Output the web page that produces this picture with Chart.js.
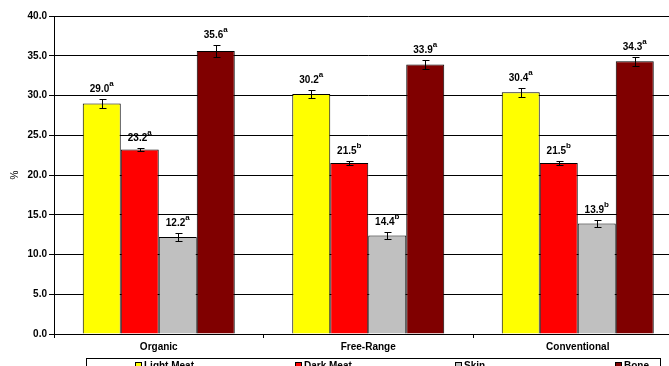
<!DOCTYPE html>
<html>
<head>
<meta charset="utf-8">
<script src="https://cdn.jsdelivr.net/npm/chart.js@4"></script>
<style>
  html, body { margin: 0; padding: 0; background: #fff; overflow: hidden; }
  #wrap { width: 669px; height: 366px; overflow: hidden; position: relative; }
  canvas { display: block; }
</style>
</head>
<body>
<div id="wrap"><canvas id="chart" width="750" height="366"></canvas></div>
<script>
const categories = ["Organic", "Free-Range", "Conventional"];
const seriesNames = ["Light Meat", "Dark Meat", "Skin", "Bone"];

const lightMeat = [29.0, 30.2, 30.4];
const darkMeat = [23.2, 21.5, 21.5];
const skin = [12.2, 12.4, 13.9];
const bone = [35.6, 33.9, 34.3];

const lightMeatErr = [0.6, 0.55, 0.6];
const darkMeatErr = [0.2, 0.2, 0.2];
const skinErr = [0.55, 0.45, 0.5];
const boneErr = [0.7, 0.6, 0.6];

const lightMeatText = ["29.0", "30.2", "30.4"];
const darkMeatText = ["23.2", "21.5", "21.5"];
const skinText = ["12.2", "14.4", "13.9"];
const boneText = ["35.6", "33.9", "34.3"];

const lightMeatLetters = ["a", "a", "a"];
const darkMeatLetters = ["a", "b", "b"];
const skinLetters = ["a", "b", "b"];
const boneLetters = ["a", "a", "a"];

const FONT = 'Arial, "Liberation Sans", sans-serif';

// error bars + value labels with superscript letters
const errorBarsAndLabels = {
  id: 'errorBarsAndLabels',
  afterDatasetsDraw(chart) {
    const ctx = chart.ctx;
    const y = chart.scales.y;
    chart.data.datasets.forEach((ds, i) => {
      const meta = chart.getDatasetMeta(i);
      meta.data.forEach((bar, j) => {
        const v = ds.data[j], e = ds.errors[j];
        const top = Math.round(y.getPixelForValue(v + e)) + 0.5;
        const bot = Math.round(y.getPixelForValue(v - e)) + 0.5;
        const x = Math.round(bar.x) + 0.5;
        ctx.save();
        ctx.strokeStyle = '#000';
        ctx.lineWidth = 1;
        ctx.beginPath();
        ctx.moveTo(x, top); ctx.lineTo(x, bot);
        ctx.moveTo(x - 3, top); ctx.lineTo(x + 4, top);
        ctx.moveTo(x - 3, bot); ctx.lineTo(x + 4, bot);
        ctx.stroke();

        ctx.fillStyle = '#000';
        ctx.textAlign = 'left';
        ctx.textBaseline = 'alphabetic';
        ctx.font = 'bold 10px ' + FONT;
        const num = ds.valueText[j];
        const w1 = ctx.measureText(num).width;
        ctx.font = 'bold 8px ' + FONT;
        const sup = ds.letters[j];
        const w2 = ctx.measureText(sup).width;
        const sx = bar.x - (w1 + w2) / 2;
        const base = top - 8;
        ctx.font = 'bold 10px ' + FONT;
        ctx.fillText(num, sx, base);
        ctx.font = 'bold 8px ' + FONT;
        ctx.fillText(sup, sx + w1, base - 6);
        ctx.restore();
      });
    });
  }
};

// Excel style legend in a box below the axis
const boxedLegend = {
  id: 'boxedLegend',
  afterDraw(chart) {
    const ctx = chart.ctx;
    const left = 86, top = 358, right = 660;
    ctx.save();
    ctx.strokeStyle = '#000';
    ctx.lineWidth = 1;
    ctx.fillStyle = '#fff';
    ctx.fillRect(left, top, right - left, 24);
    ctx.strokeRect(left + 0.5, top + 0.5, right - left, 24);
    ctx.font = 'bold 10px ' + FONT;
    ctx.textBaseline = 'alphabetic';
    chart.data.datasets.forEach((ds, i) => {
      const x = left + 49 + i * 160;
      ctx.fillStyle = ds.backgroundColor;
      ctx.fillRect(x, 362, 7, 7);
      ctx.strokeRect(x + 0.5, 362.5, 6, 6);
      ctx.fillStyle = '#000';
      ctx.fillText(ds.label, x + 9, 369);
    });
    ctx.restore();
  }
};

function makeSet(i, data, errs, text, letters, color) {
  return {
    label: seriesNames[i],
    data: data,
    errors: errs,
    valueText: text,
    letters: letters,
    backgroundColor: color,
    borderColor: '#000',
    borderWidth: 1,
    categoryPercentage: 0.7255,
    barPercentage: 1.0
  };
}

new Chart(document.getElementById('chart'), {
  type: 'bar',
  data: {
    labels: categories,
    datasets: [
      makeSet(0, lightMeat, lightMeatErr, lightMeatText, lightMeatLetters, '#FFFF00'),
      makeSet(1, darkMeat, darkMeatErr, darkMeatText, darkMeatLetters, '#FF0000'),
      makeSet(2, skin, skinErr, skinText, skinLetters, '#C0C0C0'),
      makeSet(3, bone, boneErr, boneText, boneLetters, '#800000')
    ]
  },
  options: {
    responsive: false,
    animation: false,
    devicePixelRatio: 1,
    layout: { padding: { left: 0, right: 67.5, top: 16, bottom: 0 } },
    plugins: { legend: { display: false }, tooltip: { enabled: false } },
    scales: {
      x: {
        grid: { display: true, drawOnChartArea: false, drawTicks: true, tickLength: 4, color: '#000', offset: true },
        border: { color: '#000' },
        ticks: { color: '#000', font: { family: FONT, size: 10, weight: 'bold' }, padding: 3 },
        afterFit(s) { s.height = 32; }
      },
      y: {
        min: 0,
        max: 40,
        ticks: {
          stepSize: 5,
          callback: v => v.toFixed(1),
          color: '#000',
          font: { family: FONT, size: 10, weight: 'bold' },
          padding: 2
        },
        grid: { color: '#000', tickLength: 5 },
        border: { color: '#000' },
        title: { display: true, text: '%', color: '#000', font: { family: FONT, size: 10 }, padding: { top: 9.5 } },
        afterFit(s) { s.width = 54; }
      }
    }
  },
  plugins: [errorBarsAndLabels, boxedLegend]
});
</script>
</body>
</html>
